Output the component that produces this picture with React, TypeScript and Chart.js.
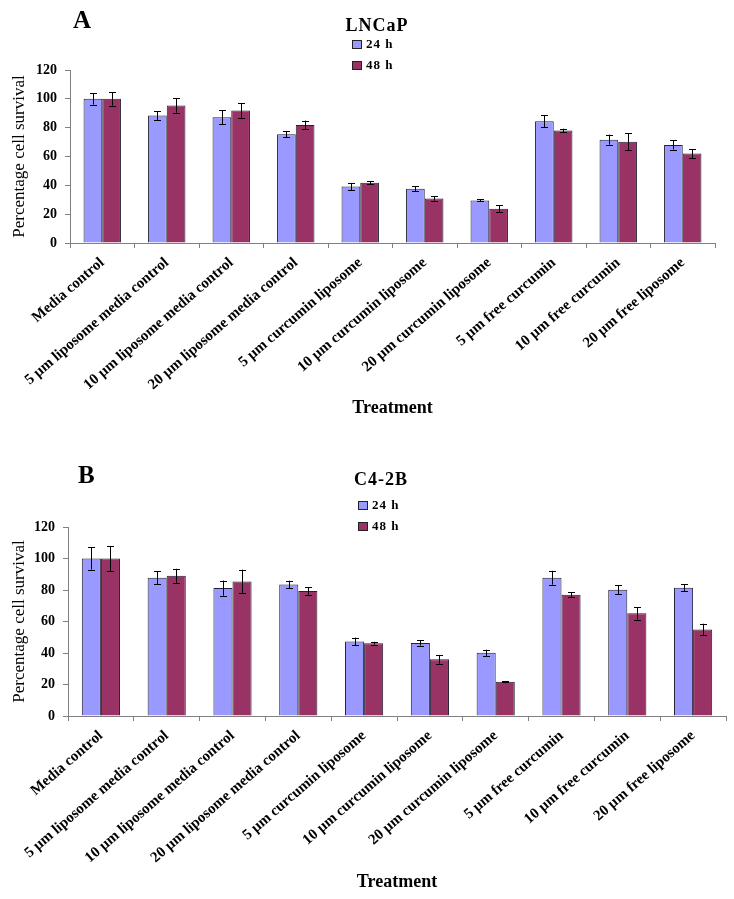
import React, { useEffect, useRef } from "react";
import { Chart, registerables } from "chart.js";

Chart.register(...registerables);

// ---- data ----
const categories = [
  "Media control",
  "5 µm liposome media control",
  "10 µm liposome media control",
  "20 µm liposome media control",
  "5 µm curcumin liposome",
  "10 µm curcumin liposome",
  "20 µm curcumin liposome",
  "5 µm free curcumin",
  "10 µm free curcumin",
  "20 µm free liposome",
];
const seriesLabels = ["24 h", "48 h"];
const seriesColors = ["#9999FF", "#993366"];

const lncap24 = [100, 88.4, 87.3, 75.4, 39.2, 37.6, 29.5, 84.5, 71.7, 68];
const lncap24Err = [4, 3, 4.8, 2, 2.5, 1.7, 0.7, 4.3, 3.5, 3.2];
const lncap48 = [100, 95.4, 91.9, 81.9, 41.8, 30.9, 23.7, 78, 70.3, 62];
const lncap48Err = [4.7, 5, 5, 3, 1.2, 1.5, 2.5, 1.3, 6, 3.2];

const c42b24 = [100, 87.8, 81.2, 83.5, 47.3, 46.4, 40.1, 87.8, 80.2, 81.4];
const c42b24Err = [7, 4.2, 4.8, 2.4, 2.5, 1.7, 2, 4.4, 3, 2.1];
const c42b48 = [100, 89, 85.4, 79.3, 46.2, 36, 21.7, 77, 65.2, 54.9];
const c42b48Err = [8, 4.5, 7.5, 2.3, 0.9, 2.8, 0.3, 1.6, 4, 3.7];

const yMin = 0;
const yMax = 120;
const yStep = 20;

const xTitle = "Treatment";
const yTitle = "Percentage cell survival";

const SERIF = "'Liberation Serif', 'Times New Roman', serif";

type Spec = {
  letter: string;
  title: string;
  v24: number[];
  e24: number[];
  v48: number[];
  e48: number[];
  top: number;
  height: number;
  padTop: number;
  padRight: number;
  yWidth: number;
  xHeight: number;
  xTitlePad: number;
  letterPos: [number, number];
  titlePos: [number, number];
  legendPos: [number, number];
};

function Panel({ spec }: { spec: Spec }) {
  const ref = useRef<HTMLCanvasElement>(null);

  useEffect(() => {
    const errorBars = {
      id: "errorBars",
      afterDatasetsDraw(chart: any) {
        const ctx = chart.ctx;
        const ys = chart.scales.y;
        chart.data.datasets.forEach((ds: any, i: number) => {
          const meta = chart.getDatasetMeta(i);
          meta.data.forEach((el: any, j: number) => {
            const v = ds.data[j];
            const e = ds.errors[j];
            const x = Math.round(el.x) + 0.5;
            const yt = ys.getPixelForValue(v + e);
            const yb = ys.getPixelForValue(v - e);
            ctx.save();
            ctx.strokeStyle = "#000";
            ctx.lineWidth = 1;
            ctx.beginPath();
            ctx.moveTo(x, yt);
            ctx.lineTo(x, yb);
            ctx.moveTo(x - 3.5, Math.round(yt) + 0.5);
            ctx.lineTo(x + 3.5, Math.round(yt) + 0.5);
            ctx.moveTo(x - 3.5, Math.round(yb) + 0.5);
            ctx.lineTo(x + 3.5, Math.round(yb) + 0.5);
            ctx.stroke();
            ctx.restore();
          });
        });
      },
    };

    const overlay = {
      id: "overlay",
      afterDraw(chart: any) {
        const ctx = chart.ctx;
        ctx.save();
        ctx.fillStyle = "#000";
        ctx.textBaseline = "middle";
        // panel letter
        ctx.font = `bold 25px ${SERIF}`;
        ctx.textAlign = "left";
        ctx.fillText(spec.letter, spec.letterPos[0], spec.letterPos[1]);
        // title
        ctx.font = `bold 18px ${SERIF}`;
        ctx.textAlign = "center";
        try { (ctx as any).letterSpacing = "1px"; } catch (e) {}
        ctx.fillText(spec.title, spec.titlePos[0], spec.titlePos[1]);
        // legend
        ctx.font = `bold 13px ${SERIF}`;
        ctx.textAlign = "left";
        chart.data.datasets.forEach((ds: any, i: number) => {
          const lx = spec.legendPos[0];
          const ly = spec.legendPos[1] + i * 21;
          ctx.fillStyle = ds.backgroundColor;
          ctx.fillRect(lx, ly - 4, 10, 9);
          ctx.strokeStyle = "#222";
          ctx.lineWidth = 1;
          ctx.strokeRect(lx + 0.5, ly - 4 + 0.5, 9, 8);
          ctx.fillStyle = "#000";
          ctx.fillText(ds.label, lx + 14, ly + 1);
        });
        ctx.restore();
      },
    };

    const chart = new Chart(ref.current as HTMLCanvasElement, {
      type: "bar",
      data: {
        labels: categories,
        datasets: [
          {
            label: seriesLabels[0],
            data: spec.v24,
            errors: spec.e24,
            backgroundColor: seriesColors[0],
            borderColor: "#222233",
            borderWidth: 1,
          } as any,
          {
            label: seriesLabels[1],
            data: spec.v48,
            errors: spec.e48,
            backgroundColor: seriesColors[1],
            borderColor: "#222233",
            borderWidth: 1,
          } as any,
        ],
      },
      options: {
        responsive: false,
        animation: false,
        layout: {
          padding: { top: spec.padTop, right: spec.padRight, left: 0, bottom: 0 },
        },
        datasets: { bar: { categoryPercentage: 0.58, barPercentage: 1 } },
        plugins: {
          legend: { display: false },
          title: { display: false },
          tooltip: { enabled: false },
        },
        scales: {
          x: {
            afterFit: (s: any) => {
              s.height = spec.xHeight;
            },
            grid: {
              display: true,
              drawOnChartArea: false,
              drawTicks: true,
              tickLength: 5,
              color: "#808080",
              offset: true,
            },
            border: { display: true, color: "#808080", width: 1 },
            ticks: {
              autoSkip: false,
              minRotation: 41,
              maxRotation: 41,
              padding: 6,
              color: "#000",
              font: { family: SERIF, size: 15, weight: "bold" },
            },
            title: {
              display: true,
              text: xTitle,
              color: "#000",
              font: { family: SERIF, size: 18, weight: "bold" },
              padding: { top: 0, bottom: spec.xTitlePad },
            },
          },
          y: {
            min: yMin,
            max: yMax,
            afterFit: (s: any) => {
              s.width = spec.yWidth;
            },
            grid: {
              display: true,
              drawOnChartArea: false,
              drawTicks: true,
              tickLength: 5,
              color: "#808080",
            },
            border: { display: true, color: "#808080", width: 1 },
            ticks: {
              stepSize: yStep,
              padding: 8,
              color: "#000",
              font: { family: SERIF, size: 14, weight: "bold" },
            },
            title: {
              display: true,
              text: yTitle,
              color: "#000",
              font: { family: SERIF, size: 17, weight: "normal" },
              padding: { top: 9, bottom: 0 },
            },
          },
        },
      } as any,
      plugins: [errorBars, overlay],
    });
    return () => chart.destroy();
  }, []);

  return (
    <canvas
      ref={ref}
      width={734}
      height={spec.height}
      style={{
        position: "absolute",
        left: 0,
        top: spec.top,
        width: 734,
        height: spec.height,
        display: "block",
      }}
    />
  );
}

const specA: Spec = {
  letter: "A",
  title: "LNCaP",
  v24: lncap24,
  e24: lncap24Err,
  v48: lncap48,
  e48: lncap48Err,
  top: 0,
  height: 425,
  padTop: 70,
  padRight: 19,
  yWidth: 70,
  xHeight: 182,
  xTitlePad: 6,
  letterPos: [73, 22],
  titlePos: [377, 26],
  legendPos: [352, 44],
};

const specB: Spec = {
  letter: "B",
  title: "C4-2B",
  v24: c42b24,
  e24: c42b24Err,
  v48: c42b48,
  e48: c42b48Err,
  top: 425,
  height: 474,
  padTop: 102,
  padRight: 8,
  yWidth: 68,
  xHeight: 183,
  xTitlePad: 6,
  letterPos: [78, 52],
  titlePos: [381, 55],
  legendPos: [358, 80],
};

export default function App() {
  return (
    <div
      style={{
        position: "absolute",
        left: 0,
        top: 0,
        width: 734,
        height: 899,
        background: "#fff",
        overflow: "hidden",
      }}
    >
      <Panel spec={specA} />
      <Panel spec={specB} />
    </div>
  );
}
